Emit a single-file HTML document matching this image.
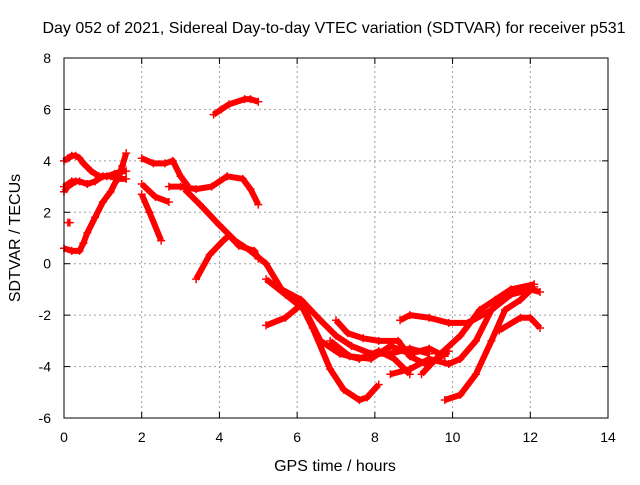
<!DOCTYPE html>
<html><head><meta charset="utf-8"><style>
body{margin:0;background:#fff}
svg text{font-family:"Liberation Sans",sans-serif;fill:#000}
</style></head><body>
<svg id="c" width="640" height="480">
<text x="334" y="33" font-size="16" text-anchor="middle">Day 052 of 2021, Sidereal Day-to-day VTEC variation (SDTVAR) for receiver p531</text>
<text x="335" y="471" font-size="16" text-anchor="middle">GPS time / hours</text>
<text transform="translate(20,238) rotate(-90)" font-size="16" text-anchor="middle">SDTVAR / TECUs</text>
<g id="grid"></g><g id="series"></g>
<rect x="64" y="58" width="544" height="360" fill="none" stroke="#000"/>
</svg>
<script>
const xTicks=[0,2,4,6,8,10,12,14];
const yTicks=[-6,-4,-2,0,2,4,6,8];
const trackA=[[0,4.0],[0.1,4.1],[0.2,4.2],[0.3,4.2],[0.4,4.1],[0.5,3.9],[0.7,3.6],[0.9,3.4],[1.1,3.4],[1.3,3.5],[1.5,3.6],[1.6,3.6]];
const trackB=[[0,3.0],[0.2,3.2],[0.4,3.2],[0.6,3.1],[0.8,3.2],[1.0,3.4],[1.2,3.4],[1.4,3.3],[1.6,3.3]];
const trackC=[[0,2.8],[0.1,3.0],[0.3,3.2]];
const trackD=[[0,0.6],[0.2,0.5],[0.4,0.5],[0.5,0.8],[0.6,1.2],[0.8,1.8],[1.0,2.4],[1.2,2.8],[1.4,3.4],[1.5,3.8],[1.6,4.3]];
const trackE=[[0.1,1.6],[0.15,1.6]];
const trackF=[[2.0,4.1],[2.3,3.9],[2.6,3.9],[2.8,4.0],[3.0,3.4],[3.2,3.0]];
const trackF2=[[2.7,3.0],[3.0,3.0],[3.4,2.9],[3.8,3.0],[4.2,3.4],[4.6,3.3],[4.8,2.9],[5.0,2.3]];
const trackG2=[[2.0,3.1],[2.35,2.6],[2.7,2.4]];
const trackG3=[[2.0,2.7],[2.2,2.0],[2.5,0.9]];
const trackP=[[3.1,2.9],[3.5,2.3],[4.0,1.5],[4.4,0.9],[4.8,0.5],[5.2,0.0],[5.6,-1.0],[6.1,-1.4],[6.6,-2.2],[7.0,-2.8],[7.4,-3.2],[7.9,-3.5],[8.4,-3.5],[8.9,-3.3],[9.4,-3.5]];
const trackG=[[3.4,-0.6],[3.75,0.35],[4.1,0.9],[4.25,1.1],[4.5,0.7],[4.9,0.5],[5.0,0.2]];
const trackH=[[3.85,5.8],[4.05,6.0],[4.25,6.2],[4.65,6.4],[4.8,6.4],[5.0,6.3]];
const trackI=[[5.2,-2.4],[5.7,-2.1],[6.1,-1.6],[6.4,-2.5],[6.85,-4.1],[7.2,-4.9],[7.6,-5.3],[7.8,-5.2],[8.1,-4.7]];
const trackJ=[[5.2,-0.6],[5.7,-1.2],[6.2,-1.8],[6.6,-3.0],[7.1,-3.5],[7.6,-3.7],[8.1,-3.4],[8.5,-3.7],[8.9,-4.3]];
const trackJ2=[[8.65,-2.2],[8.9,-2.0],[9.4,-2.1],[9.9,-2.3],[10.4,-2.3],[11.0,-1.8],[11.5,-1.2],[12.0,-1.0],[12.25,-1.1]];
const trackK=[[9.8,-5.3],[10.2,-5.1],[10.6,-4.3],[11.0,-3.0],[11.35,-1.8],[11.75,-1.4],[12.1,-0.9]];
const trackL=[[9.2,-4.3],[9.7,-3.5],[10.2,-2.8],[10.7,-1.8],[11.1,-1.4],[11.5,-1.0],[12.1,-0.8]];
const trackM=[[8.4,-4.3],[8.9,-4.1],[9.4,-3.7],[9.9,-3.9],[10.2,-3.7],[10.6,-3.0],[11.0,-1.8],[11.3,-1.4]];
const trackN=[[11.2,-2.6],[11.75,-2.1],[12.0,-2.1],[12.25,-2.5]];
const trackO=[[6.85,-3.0],[7.35,-3.6],[7.9,-3.7],[8.4,-3.2],[8.9,-3.5],[9.4,-3.3],[9.8,-3.6]];
const trackQ=[[7.0,-2.2],[7.3,-2.7],[7.7,-2.9],[8.1,-3.0],[8.6,-3.0],[8.9,-3.6],[9.3,-3.9],[9.6,-3.7],[9.9,-3.4]];
const tracks=[trackA,trackB,trackC,trackD,trackE,trackF,trackF2,trackG2,trackG3,trackP,trackG,trackH,trackI,trackJ,trackJ2,trackK,trackL,trackM,trackN,trackO,trackQ];
const NS='http://www.w3.org/2000/svg';
const X0=64,X1=608,Y0=418,Y1=58;
const sx=t=>X0+(t-0)/(14-0)*(X1-X0);
const sy=v=>Y0-(v+6)/(8+6)*(Y0-Y1);
const grid=document.getElementById('grid'),ser=document.getElementById('series'),svg=document.getElementById('c');
function mk(tag,a,p){const e=document.createElementNS(NS,tag);for(const k in a)e.setAttribute(k,a[k]);p.appendChild(e);return e;}
xTicks.forEach(t=>{const x=sx(t);
 if(t>0&&t<14){const g=mk('line',{x1:x,x2:x,y1:Y0,y2:Y1,stroke:'#a0a0a0','stroke-dasharray':'2,3'},grid);}
 mk('line',{x1:x,x2:x,y1:Y0,y2:Y0-6,stroke:'#000'},grid);mk('line',{x1:x,x2:x,y1:Y1,y2:Y1+6,stroke:'#000'},grid);
 const tx=mk('text',{x:x,y:Y0+24,'font-size':14,'text-anchor':'middle'},svg);tx.textContent=t;
 });
yTicks.forEach(v=>{const y=sy(v);
 if(v>-6&&v<8){const g=mk('line',{x1:X0,x2:X1,y1:y,y2:y,stroke:'#a0a0a0','stroke-dasharray':'2,3'},grid);}
 mk('line',{x1:X0,x2:X0+6,y1:y,y2:y,stroke:'#000'},grid);mk('line',{x1:X1,x2:X1-6,y1:y,y2:y,stroke:'#000'},grid);
 const tx=mk('text',{x:X0-13,y:y+5,'font-size':14,'text-anchor':'end'},svg);tx.textContent=v;
 });
tracks.forEach(tr=>{
 const pl=mk('polyline',{points:tr.map(p=>sx(p[0])+','+sy(p[1])).join(' '),fill:'none',stroke:'#ff0000','stroke-width':6,'stroke-linejoin':'round'},ser);
 
 
 tr.forEach(p=>{const x=sx(p[0]),y=sy(p[1]);
  const m=mk('path',{d:`M${x-4},${y}h8M${x},${y-4}v8`,stroke:'#ff0000','stroke-width':1.5},ser);
  
  });
});
</script>
</body></html>
